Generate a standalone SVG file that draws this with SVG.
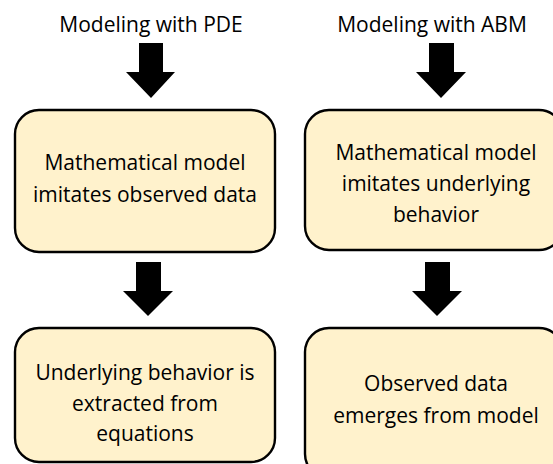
<svg xmlns="http://www.w3.org/2000/svg" width="553" height="464" viewBox="0 0 553 464">
<style>
.box{fill:#FFF2CC;stroke:#000;stroke-width:2.4}
.t{font-family:"Open Sans","Liberation Sans",sans-serif;font-size:21px;fill:#000;text-anchor:middle}
.arr{fill:#000}
</style>
<rect width="553" height="464" fill="#fff"/>
<g id="label-pde"><text class="t" x="151" y="32">Modeling with PDE</text></g>
<g id="label-abm"><text class="t" x="432" y="32">Modeling with ABM</text></g>
<g id="connectors">
<path class="arr" d="M139,43 H163 V72 H175 L151,98 L126,72 H139 Z"/>
<path class="arr" d="M429,43 H454 V72 H466 L441,98 L416,72 H429 Z"/>
<path class="arr" d="M136,262 H161 V291 H173 L148,316 L123,291 H136 Z"/>
<path class="arr" d="M425,262 H450 V291 H462 L437,316 L412,291 H425 Z"/>
</g>
<g id="node-pde-model">
<rect class="box" x="15" y="110" width="260" height="142" rx="24"/>
<text class="t" x="145" y="170">Mathematical model</text>
<text class="t" x="145" y="202">imitates observed data</text>
</g>
<g id="node-abm-model">
<rect class="box" x="305" y="110" width="258" height="140" rx="24"/>
<text class="t" x="436" y="160">Mathematical model</text>
<text class="t" x="436" y="191">imitates underlying</text>
<text class="t" x="436" y="222">behavior</text>
</g>
<g id="node-pde-result">
<rect class="box" x="15" y="328" width="260" height="134" rx="24"/>
<text class="t" x="145" y="380">Underlying behavior is</text>
<text class="t" x="145" y="411">extracted from</text>
<text class="t" x="145" y="441">equations</text>
</g>
<g id="node-abm-result">
<rect class="box" x="305" y="328" width="258" height="150" rx="24"/>
<text class="t" x="436" y="391">Observed data</text>
<text class="t" x="436" y="423">emerges from model</text>
</g>
</svg>
